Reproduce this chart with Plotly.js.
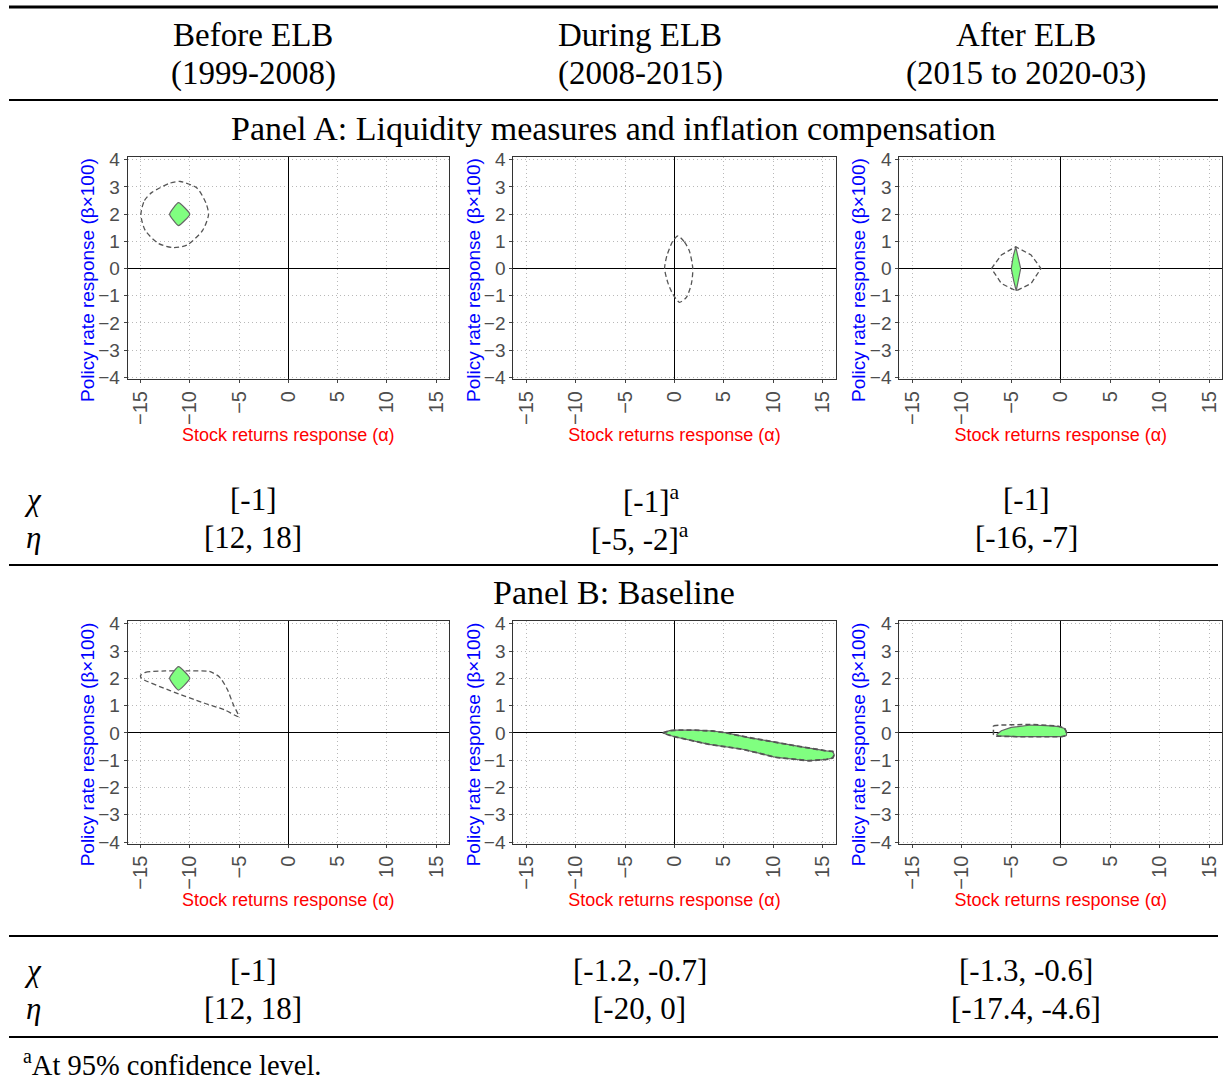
<!DOCTYPE html>
<html>
<head>
<meta charset="utf-8">
<script src="https://cdn.plot.ly/plotly-3.0.1.min.js"></script>
<style>html,body{margin:0;padding:0;background:#fff;}</style>
</head>
<body>
<div id="chart" style="width:1223px;height:1086px;"></div>
<script>
// ---- Data ----
const xTicks = [-15, -10, -5, 0, 5, 10, 15];
const yTicks = [-4, -3, -2, -1, 0, 1, 2, 3, 4];

// Panel A, Before ELB
const a1FillX = [-12.05, -11.15, -10.0, -11.15, -12.05];
const a1FillY = [2.0, 2.42, 2.0, 1.58, 2.0];
const a1CiX = [-14.96, -14.6, -13.84, -12.0, -10.97, -9.28, -8.35, -8.1, -8.7, -10.3, -11.65, -13.17, -14.52, -14.96];
const a1CiY = [1.98, 2.5, 2.8, 3.14, 3.2, 2.96, 2.4, 1.98, 1.4, 0.86, 0.77, 0.92, 1.4, 1.98];
// Panel A, During ELB
const a2CiX = [0.35, 1.0, 1.5, 1.85, 1.7, 1.2, 0.5, -0.17, -0.68, -1.0, -0.78, -0.17, 0.35];
const a2CiY = [1.2, 0.98, 0.65, 0.0, -0.57, -1.06, -1.24, -0.94, -0.51, 0.0, 0.46, 1.01, 1.2];
// Panel A, After ELB
const a3FillX = [-4.55, -4.35, -4.05, -4.3, -4.5, -4.75, -5.0, -4.8, -4.55];
const a3FillY = [0.8, 0.45, 0.0, -0.45, -0.82, -0.45, 0.0, 0.45, 0.8];
const a3CiX = [-7.0, -6.0, -4.55, -3.0, -2.0, -3.0, -4.5, -6.0, -7.0];
const a3CiY = [0.0, 0.5, 0.8, 0.5, 0.0, -0.55, -0.82, -0.55, 0.0];

// Panel B, Before ELB
const b1FillX = [-12.05, -11.15, -10.0, -11.15, -12.05];
const b1FillY = [2.0, 2.43, 2.0, 1.57, 2.0];
const b1CiX = [-15.0, -14.5, -12.5, -10.0, -8.0, -7.0, -6.2, -5.6, -5.05, -6.5, -8.6, -12.0, -14.9, -15.0];
const b1CiY = [2.1, 2.22, 2.27, 2.27, 2.25, 2.05, 1.6, 1.05, 0.6, 0.85, 1.1, 1.55, 2.0, 2.1];
// Panel B, During ELB
const b2X = [-1.18, -0.5, 0.17, 2.0, 3.88, 5.24, 7.5, 10.3, 13.0, 15.37, 16.0, 16.15, 16.0, 15.37, 13.6, 10.3, 6.9, 3.5, 1.85, 0.0, -0.8, -1.18];
const b2Y = [0.0, 0.08, 0.1, 0.1, 0.07, 0.0, -0.17, -0.36, -0.52, -0.66, -0.68, -0.8, -0.92, -0.97, -1.02, -0.9, -0.6, -0.42, -0.3, -0.14, -0.05, 0.0];
// Panel B, After ELB
const b3FillX = [-6.5, -6.0, -5.0, -3.0, -1.0, -0.2, 0.45, 0.6, 0.55, 0.2, -2.0, -4.3, -6.3, -6.5];
const b3FillY = [-0.07, 0.08, 0.2, 0.29, 0.26, 0.23, 0.15, 0.0, -0.1, -0.14, -0.14, -0.14, -0.11, -0.07];
const b3CiX = [-6.8, -6.0, -3.0, -0.5, 0.3, 0.55, 0.5, 0.0, -4.5, -6.5, -6.8, -6.8];
const b3CiY = [0.26, 0.29, 0.31, 0.26, 0.2, 0.05, -0.1, -0.14, -0.14, -0.12, -0.05, 0.26];

// Table text
const colHeads = ["Before ELB", "During ELB", "After ELB"];
const colPeriods = ["(1999-2008)", "(2008-2015)", "(2015 to 2020-03)"];
const panelTitles = ["Panel A: Liquidity measures and inflation compensation", "Panel B: Baseline"];
const chiA = ["[-1]", "[-1]<sup>a</sup>", "[-1]"];
const etaA = ["[12, 18]", "[-5, -2]<sup>a</sup>", "[-16, -7]"];
const chiB = ["[-1]", "[-1.2, -0.7]", "[-1.3, -0.6]"];
const etaB = ["[12, 18]", "[-20, 0]", "[-17.4, -4.6]"];
const footnote = "<sup>a</sup>At 95% confidence level.";
const xTitle = "Stock returns response (α)";
const yTitle = "Policy rate response (β×100)";

// ---- Layout helpers ----
const W = 1223, H = 1086;
const px = v => v / W;
const py = v => 1 - v / H;

const xDomains = [[127.7, 449], [513.3, 835.7], [899.3, 1222.3]];
const yDomains = [[157, 379], [621, 843.7]]; // top, bottom in px
const yTitleX = [87, 473, 858];

const FILL = '#80ff80';
const OUT = '#666666';
const DASH = '#555555';

function fillTrace(x, y, ax) {
  return {x: x, y: y, xaxis: 'x' + ax, yaxis: 'y' + ax, type: 'scatter', mode: 'lines',
    fill: 'toself', fillcolor: FILL, line: {color: OUT, width: 1.2}, hoverinfo: 'skip', showlegend: false};
}
function fillSpline(x, y, ax) {
  const t = fillTrace(x, y, ax);
  t.line.shape = 'spline'; t.line.smoothing = 0.45;
  return t;
}
function ciTrace(x, y, ax, spline, w) {
  return {x: x, y: y, xaxis: 'x' + ax, yaxis: 'y' + ax, type: 'scatter', mode: 'lines',
    line: {color: DASH, width: w || 1.3, dash: '5px,3px', shape: spline ? 'spline' : 'linear', smoothing: 0.7},
    hoverinfo: 'skip', showlegend: false};
}

const traces = [
  ciTrace(a1CiX, a1CiY, '', true), fillSpline(a1FillX, a1FillY, ''),
  ciTrace(a2CiX, a2CiY, '2', true),
  fillTrace(a3FillX, a3FillY, '3'), ciTrace(a3CiX, a3CiY, '3', false),
  ciTrace(b1CiX, b1CiY, '4', true), fillSpline(b1FillX, b1FillY, '4'),
  fillTrace(b2X, b2Y, '5'), ciTrace(b2X, b2Y, '5', false, 1.8),
  fillTrace(b3FillX, b3FillY, '6'), ciTrace(b3CiX, b3CiY, '6', false, 1.5)
];

const sans = 'Liberation Sans, Arial, Helvetica, sans-serif';
const serif = 'Liberation Serif, Times New Roman, serif';

const layout = {
  width: W, height: H,
  margin: {l: 0, r: 0, t: 0, b: 0},
  paper_bgcolor: '#ffffff', plot_bgcolor: '#ffffff',
  showlegend: false,
  annotations: [], shapes: []
};

for (let r = 0; r < 2; r++) {
  for (let c = 0; c < 3; c++) {
    const i = r * 3 + c + 1;
    const sfx = i === 1 ? '' : String(i);
    layout['xaxis' + sfx] = {
      domain: [px(xDomains[c][0]), px(xDomains[c][1])],
      anchor: 'y' + sfx, range: [-16.3, 16.3],
      tickmode: 'array', tickvals: xTicks, tickangle: -90,
      showgrid: true, gridcolor: '#b8b8b8', griddash: '1px,3px', gridwidth: 1,
      zeroline: true, zerolinecolor: '#000000', zerolinewidth: 1,
      showline: true, mirror: true, linecolor: '#333333', linewidth: 1,
      ticks: 'outside', ticklen: 3, tickcolor: '#444444',
      tickfont: {family: sans, size: 20, color: '#4d4d4d'},
      layer: 'above traces', automargin: false, fixedrange: true,
      title: {text: xTitle, font: {family: sans, size: 18, color: '#ff0000'}, standoff: 0}
    };
    layout['yaxis' + sfx] = {
      domain: [py(yDomains[r][1]), py(yDomains[r][0])],
      anchor: 'x' + sfx, range: [-4.06, 4.1],
      tickmode: 'array', tickvals: yTicks,
      showgrid: true, gridcolor: '#b8b8b8', griddash: '1px,3px', gridwidth: 1,
      zeroline: true, zerolinecolor: '#000000', zerolinewidth: 1,
      showline: true, mirror: true, linecolor: '#333333', linewidth: 1,
      ticks: 'outside', ticklen: 3, tickcolor: '#444444',
      tickfont: {family: sans, size: 19, color: '#4d4d4d'},
      layer: 'above traces', automargin: false, fixedrange: true
    };
    // y-axis title, placed like the reference (slightly below the axis centre)
    layout.annotations.push({
      text: yTitle, textangle: -90, xref: 'paper', yref: 'paper',
      x: px(yTitleX[c]), y: py((yDomains[r][0] + yDomains[r][1]) / 2 + 12),
      xanchor: 'center', yanchor: 'middle', showarrow: false,
      font: {family: sans, size: 19, color: '#0000ff'}
    });
  }
}

function ann(text, x, y, size, opts) {
  const a = {text: text, x: px(x), y: py(y), xref: 'paper', yref: 'paper',
    xanchor: 'center', yanchor: 'middle', showarrow: false,
    font: {family: serif, size: size, color: '#000000'}};
  return Object.assign(a, opts || {});
}

const colX = [253, 640, 1026];
for (let c = 0; c < 3; c++) {
  layout.annotations.push(ann(colHeads[c], colX[c], 35, 33));
  layout.annotations.push(ann(colPeriods[c], colX[c], 73, 33));
}
layout.annotations.push(ann(panelTitles[0], 613, 128, 34));
layout.annotations.push(ann(panelTitles[1], 614, 592, 34));

const chiAX = [253, 651, 1026];
const etaAX = [253, 640, 1026];
const rowBX = [253, 639.5, 1026];
layout.annotations.push(ann('<i>χ</i>', 33, 500, 31));
layout.annotations.push(ann('<i>η</i>', 33, 537, 31));
layout.annotations.push(ann('<i>χ</i>', 33, 970, 31));
layout.annotations.push(ann('<i>η</i>', 33, 1008, 31));
for (let c = 0; c < 3; c++) {
  layout.annotations.push(ann(chiA[c], chiAX[c], 500, 31));
  layout.annotations.push(ann(etaA[c], etaAX[c], 537, 31));
  layout.annotations.push(ann(chiB[c], rowBX[c], 970, 31));
  layout.annotations.push(ann(etaB[c], rowBX[c], 1008, 31));
}
layout.annotations.push(ann(footnote, 21, 1063, 28.5, {xanchor: 'left'}));

const rules = [[7, 3], [100, 2.2], [565, 2], [936, 2], [1037, 2]];
rules.forEach(([y, w]) => {
  layout.shapes.push({type: 'line', xref: 'paper', yref: 'paper',
    x0: px(9), x1: px(1218), y0: py(y), y1: py(y),
    line: {color: '#000000', width: w}});
});

Plotly.newPlot('chart', traces, layout, {staticPlot: true, displayModeBar: false});
</script>
</body>
</html>
